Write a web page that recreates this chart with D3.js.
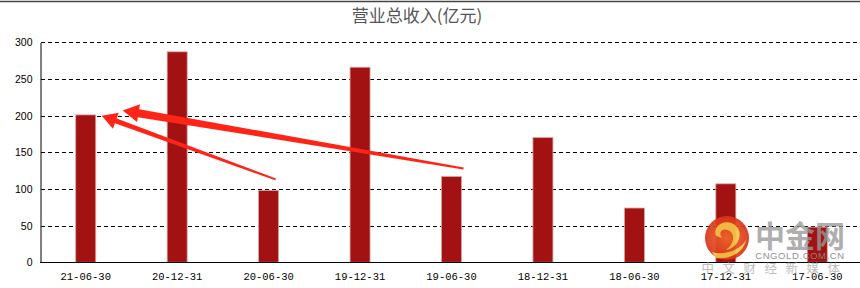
<!DOCTYPE html>
<html><head><meta charset="utf-8">
<script src="https://cdn.jsdelivr.net/npm/d3@7/dist/d3.min.js"></script>
<style>html,body{margin:0;padding:0;background:#fff;}svg{display:block;}</style>
</head><body>
<script>
const categories = ["21-06-30","20-12-31","20-06-30","19-12-31","19-06-30","18-12-31","18-06-30","17-12-31","17-06-30"];
const revenue = [201, 287, 98, 266, 117, 170, 74, 107, 48];
const yTicks = [0, 50, 100, 150, 200, 250, 300];
const title = "营业总收入(亿元)";

const W = 860, H = 288;
const svg = d3.select("body").append("svg").attr("width", W).attr("height", H);

const x = d3.scaleBand().domain(categories).range([40, 863]).padding(0);
const y = d3.scaleLinear().domain([0, 300]).range([262.3, 42.3]);
const barW = 20;

// top border
svg.append("line").attr("x1",0).attr("x2",W).attr("y1",1.5).attr("y2",1.5)
  .attr("stroke","#444").attr("stroke-width",1.5);

// title
svg.append("text").attr("x",417).attr("y",22).attr("text-anchor","middle")
  .attr("font-family","'Noto Sans CJK SC', sans-serif").attr("font-size",17)
  .attr("fill","#555").text(title);

// gridlines
svg.append("g").selectAll("line").data(yTicks.filter(d=>d>0)).join("line")
  .attr("x1",41).attr("x2",W).attr("y1",d=>Math.round(y(d))+0.5).attr("y2",d=>Math.round(y(d))+0.5)
  .attr("stroke","#000").attr("stroke-width",1).attr("stroke-dasharray","4,3");

// y axis
const yAxis = d3.axisLeft(y).tickValues(yTicks).tickSize(0).tickPadding(8);
const gy = svg.append("g").attr("transform","translate(40.5,0)").call(yAxis);
gy.select(".domain").attr("stroke","#000");
gy.selectAll("text").attr("font-family","'Liberation Sans', Arial, sans-serif")
  .attr("font-size",10.5).attr("fill","#000");

// bars
svg.append("g").selectAll("rect").data(categories).join("rect")
  .attr("x",(d)=>x(d)+x.bandwidth()/2-barW/2)
  .attr("y",(d,i)=>y(revenue[i]))
  .attr("width",barW)
  .attr("height",(d,i)=>y(0)-y(revenue[i]))
  .attr("fill","#a31212").attr("stroke","#d9a3a3").attr("stroke-width",0.8);

// x axis
const xAxis = d3.axisBottom(x).tickSize(0).tickPadding(10);
const gx = svg.append("g").attr("transform",`translate(0,${Math.round(y(0))+0.5})`).call(xAxis);
gx.select(".domain").attr("stroke","#000").attr("d","M40,0H860");
gx.selectAll("text").attr("font-family","'Liberation Mono', monospace")
  .attr("font-size",10.5).attr("fill","#000");

// arrows (annotation)
function arrow(tail, tip, headLen, headW, w0, w1){
  const dx = tip[0]-tail[0], dy = tip[1]-tail[1];
  const L = Math.hypot(dx,dy), ux = dx/L, uy = dy/L, nx = -uy, ny = ux;
  const bx = tip[0]-ux*headLen, by = tip[1]-uy*headLen;
  const pts = [
    [tail[0]+nx*w1/2, tail[1]+ny*w1/2],
    [bx+nx*w0/2, by+ny*w0/2],
    [bx+nx*headW/2, by+ny*headW/2],
    tip,
    [bx-nx*headW/2, by-ny*headW/2],
    [bx-nx*w0/2, by-ny*w0/2],
    [tail[0]-nx*w1/2, tail[1]-ny*w1/2]
  ];
  svg.append("path").attr("d","M"+pts.map(p=>p.join(",")).join("L")+"Z")
    .attr("fill","#ff2418");
}
const c0 = x(categories[0])+x.bandwidth()/2;
arrow([x(categories[2])+x.bandwidth()/2+7, y(113)], [c0+barW/2+6, y(200)], 15, 17, 5, 2);
arrow([x(categories[4])+x.bandwidth()/2+12, y(128)], [c0+barW/2+27, y(207)], 16, 18, 8, 2);

// watermark
const wm = svg.append("g").attr("opacity",0.92);
const grad = svg.append("defs").append("radialGradient").attr("id","lg");
grad.append("stop").attr("offset","0%").attr("stop-color","#f26a2a");
grad.append("stop").attr("offset","100%").attr("stop-color","#d9341a");
wm.append("circle").attr("cx",727).attr("cy",238).attr("r",22).attr("fill","url(#lg)");
wm.append("path").attr("d","M716,236 C712,224 728,218 736,226 C744,234 738,248 726,250 C734,244 736,234 728,230 C722,228 718,232 722,238 Z")
  .attr("fill","#f7c548");
wm.append("path").attr("d","M712,252 C724,256 740,250 746,240 C744,252 730,260 716,258 Z").attr("fill","#f7c548");
wm.append("text").attr("x",800).attr("y",247).attr("text-anchor","middle")
  .attr("font-family","'Noto Sans CJK SC', sans-serif").attr("font-weight","bold")
  .attr("font-size",30).attr("fill","#9a9a9a").attr("opacity",0.85).text("中金网");
wm.append("text").attr("x",800).attr("y",259).attr("text-anchor","middle")
  .attr("font-family","'Liberation Sans', Arial, sans-serif")
  .attr("font-size",9.5).attr("fill","#8a8a8a").attr("letter-spacing",0.6).text("CNGOLD.COM.CN");
wm.append("text").attr("x",775).attr("y",273).attr("text-anchor","middle")
  .attr("font-family","'Noto Sans CJK SC', sans-serif")
  .attr("font-size",12.5).attr("fill","#aaa").attr("opacity",0.8).attr("letter-spacing",8.5).text("中文财经新媒体");
</script>
</body></html>
